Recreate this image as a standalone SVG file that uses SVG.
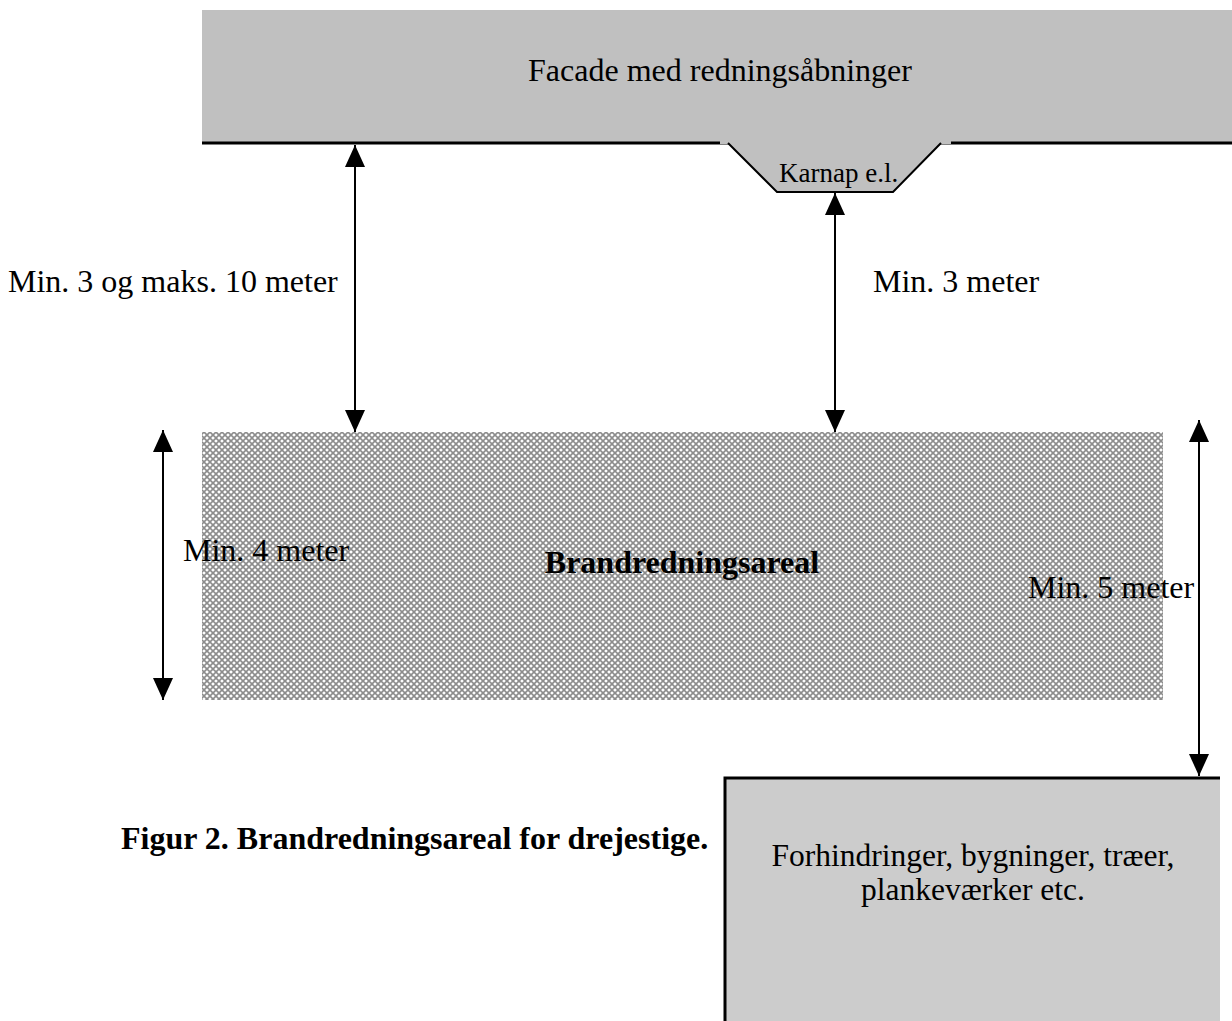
<svg xmlns="http://www.w3.org/2000/svg" width="1232" height="1021" viewBox="0 0 1232 1021">
<style>
text{font-family:"Liberation Serif","Times New Roman",serif;font-size:32px;fill:#000}
.b{font-weight:bold}
.ln{stroke:#000;stroke-width:2;fill:none}
</style>
<defs>
<pattern id="hatch" width="6" height="6" patternUnits="userSpaceOnUse">
<rect width="6" height="6" fill="#fff"/>
<path d="M0,0L6,6M6,0L0,6" stroke="#8c8c8c" stroke-width="1.6"/>
</pattern>
<marker id="ah" viewBox="0 0 22 20" refX="22" refY="10" markerWidth="22" markerHeight="20" markerUnits="userSpaceOnUse" orient="auto-start-reverse">
<path d="M0,0L22,10L0,20z" fill="#000"/>
</marker>
</defs>
<rect width="1232" height="1021" fill="#fff"/>
<g id="facade">
<rect x="202" y="10" width="1030" height="133" fill="#c0c0c0"/>
<line x1="202" y1="143" x2="1232" y2="143" stroke="#000" stroke-width="3"/>
<text x="720" y="81" text-anchor="middle">Facade med redningsåbninger</text>
</g>
<g id="karnap">
<rect x="720" y="114" width="231" height="30" fill="#c0c0c0"/>
<path d="M728,143L777,192L893,192L941,143Z" fill="#c0c0c0"/>
<path d="M728,143L777,192L893,192L941,143" class="ln"/>
<text x="779" y="182" style="font-size:27px">Karnap e.l.</text>
</g>
<g id="areal">
<rect x="202" y="432" width="961" height="268" fill="url(#hatch)"/>
<text x="682" y="573" text-anchor="middle" class="b">Brandredningsareal</text>
</g>
<g id="forhindringer">
<rect x="725" y="778" width="495" height="243" fill="#cccccc"/>
<path d="M725,1021L725,778L1220,778" stroke="#000" stroke-width="3" fill="none"/>
<text x="973" y="866" text-anchor="middle" style="font-size:31.5px">Forhindringer, bygninger, træer,</text>
<text x="973" y="900" text-anchor="middle" style="font-size:31.5px">plankeværker etc.</text>
</g>
<g id="connectors">
<line x1="355" y1="145" x2="355" y2="432" class="ln" marker-start="url(#ah)" marker-end="url(#ah)"/>
<line x1="835" y1="193" x2="835" y2="432" class="ln" marker-start="url(#ah)" marker-end="url(#ah)"/>
<line x1="163" y1="430" x2="163" y2="700" class="ln" marker-start="url(#ah)" marker-end="url(#ah)"/>
<line x1="1199" y1="420" x2="1199" y2="776" class="ln" marker-start="url(#ah)" marker-end="url(#ah)"/>
</g>
<g id="labels">
<text x="8" y="292">Min. 3 og maks. 10 meter</text>
<text x="873" y="292">Min. 3 meter</text>
<text x="183" y="561">Min. 4 meter</text>
<text x="1028" y="598">Min. 5 meter</text>
<text x="121" y="849" class="b">Figur 2. Brandredningsareal for drejestige.</text>
</g>
</svg>
